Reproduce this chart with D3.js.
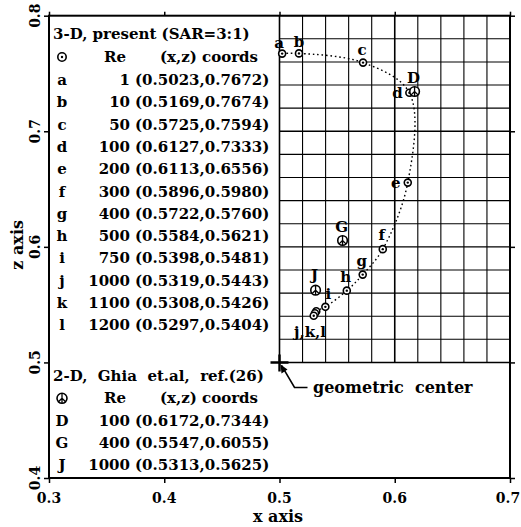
<!DOCTYPE html>
<html><head><meta charset="utf-8">
<script src="https://cdn.jsdelivr.net/npm/d3@7"></script>
<style>
html,body{margin:0;padding:0;background:#fff;}
text{font-family:"DejaVu Serif",serif;font-weight:bold;fill:#000;}
</style></head>
<body>
<svg id="chart" width="521" height="527"></svg>
<script>
// ---- data ----
const presentLabels = ['a','b','c','d','e','f','g','h','i','j','k','l'];
const presentRe = [1,10,50,100,200,300,400,500,750,1000,1100,1200];
const presentX = [0.5023,0.5169,0.5725,0.6127,0.6113,0.5896,0.5722,0.5584,0.5398,0.5319,0.5308,0.5297];
const presentZ = [0.7672,0.7674,0.7594,0.7333,0.6556,0.5980,0.5760,0.5621,0.5481,0.5443,0.5426,0.5404];
const ghiaLabels = ['D','G','J'];
const ghiaRe = [100,400,1000];
const ghiaX = [0.6172,0.5547,0.5313];
const ghiaZ = [0.7344,0.6055,0.5625];
const xTicks = [0.3,0.4,0.5,0.6,0.7];
const yTicks = [0.4,0.5,0.6,0.7,0.8];
const gridX = d3.range(0.5,0.7001,0.02);
const gridY = d3.range(0.5,0.8001,0.02);
const center = [0.5,0.5];

// ---- layout ----
const svg = d3.select('#chart');
const L=49, R=510, T=15.7, B=478;
const x = d3.scaleLinear().domain([0.3,0.7]).range([L,R]);
const y = d3.scaleLinear().domain([0.4,0.8]).range([B,T]);
const fmt = d => d.toFixed(1);
const coord = (a,b) => '(' + a.toFixed(4) + ',' + b.toFixed(4) + ')';

// grid
const g = svg.append('g');
g.selectAll('line.gx').data(gridX).join('line')
  .attr('x1',d=>x(d)).attr('x2',d=>x(d)).attr('y1',y(0.5)).attr('y2',y(0.8))
  .attr('stroke','#000').attr('stroke-width',d=>Math.abs(d-0.6)<1e-6||Math.abs(d-0.5)<1e-6?1.6:1.1);
g.selectAll('line.gy').data(gridY).join('line')
  .attr('y1',d=>y(d)).attr('y2',d=>y(d)).attr('x1',x(0.5)).attr('x2',x(0.7))
  .attr('stroke','#000').attr('stroke-width',d=>Math.abs(d-0.7)<1e-6||Math.abs(d-0.5)<1e-6?1.6:1.1);

// frame
svg.append('rect').attr('x',L).attr('y',T).attr('width',R-L).attr('height',B-T)
  .attr('fill','none').attr('stroke','#000').attr('stroke-width',2);

// axes (outward ticks, labels drawn separately)
const xb = d3.axisBottom(x).tickValues(xTicks).tickSize(5).tickFormat('');
const xt = d3.axisTop(x).tickValues(xTicks).tickSize(4).tickFormat('');
const yl = d3.axisLeft(y).tickValues(yTicks).tickSize(5).tickFormat('');
const yr = d3.axisRight(y).tickValues(yTicks).tickSize(5).tickFormat('');
[[xb,`translate(0,${B})`],[xt,`translate(0,${T})`],[yl,`translate(${L},0)`],[yr,`translate(${R},0)`]].forEach(([ax,tr])=>{
  const a = svg.append('g').attr('transform',tr).call(ax);
  a.select('.domain').remove();
  a.selectAll('line').attr('stroke','#000').attr('stroke-width',1.5);
});
// tick labels
svg.append('g').selectAll('text').data(xTicks).join('text')
  .attr('x',d=>Math.min(x(d),508)).attr('y',498).attr('text-anchor','middle').attr('dominant-baseline','central')
  .style('font-size','14px').text(fmt);
svg.append('g').selectAll('text').data(yTicks).join('text')
  .attr('transform',d=>`translate(35,${y(d)}) rotate(-90)`).attr('text-anchor','middle').attr('dominant-baseline','central')
  .style('font-size','14px').text(fmt);
svg.append('text').attr('x',278).attr('y',516).attr('text-anchor','middle').attr('dominant-baseline','central')
  .style('font-size','16px').text('x axis');
svg.append('text').attr('transform',`translate(17,${y(0.6)-2}) rotate(-90)`).attr('text-anchor','middle').attr('dominant-baseline','central')
  .style('font-size','16px').text('z axis');

// curve through present points
const pts = presentX.map((v,i)=>[x(v),y(presentZ[i])]);
svg.append('path').attr('d',d3.line().curve(d3.curveCatmullRom.alpha(0.5))(pts))
  .attr('fill','none').attr('stroke','#000').attr('stroke-width',1.4).attr('stroke-dasharray','1.6,2.8');

// markers
function presentMark(sel,cx,cy,r){
  sel.append('circle').attr('cx',cx).attr('cy',cy).attr('r',r).attr('fill','#fff').attr('stroke','#000').attr('stroke-width',1.6);
  sel.append('circle').attr('cx',cx).attr('cy',cy).attr('r',1.2).attr('fill','#000');
}
function ghiaMark(sel,cx,cy,r){
  sel.append('circle').attr('cx',cx).attr('cy',cy).attr('r',r).attr('fill','#fff').attr('stroke','#000').attr('stroke-width',1.6);
  const p = `M${cx},${cy-r}L${cx},${cy+r}M${cx},${cy}L${cx-r*0.72},${cy+r*0.7}M${cx},${cy}L${cx+r*0.72},${cy+r*0.7}`;
  sel.append('path').attr('d',p).attr('stroke','#000').attr('stroke-width',1.3).attr('fill','none');
}
const mk = svg.append('g');
presentX.forEach((v,i)=>presentMark(mk,x(v),y(presentZ[i]),3.5));
ghiaX.forEach((v,i)=>ghiaMark(mk,x(v),y(ghiaZ[i]),4.8));

// point labels (offsets in px)
const labelOffset = {a:[-3,-11],b:[0,-11],c:[-1,-13],d:[-12,0],e:[-12,0],f:[-1,-14],g:[-1,-14],h:[-1,-14],i:[3,-13]};
const ghiaOffset = {D:[-1,-14],G:[-1,-13],J:[-1,-15]};
const lb = svg.append('g').style('font-size','15px');
presentLabels.forEach((t,i)=>{
  const o = labelOffset[t]; if(!o) return;
  lb.append('text').attr('x',x(presentX[i])+o[0]).attr('y',y(presentZ[i])+o[1])
    .attr('text-anchor','middle').attr('dominant-baseline','central').text(t);
});
ghiaLabels.forEach((t,i)=>{
  const o = ghiaOffset[t];
  lb.append('text').attr('x',x(ghiaX[i])+o[0]).attr('y',y(ghiaZ[i])+o[1])
    .attr('text-anchor','middle').attr('dominant-baseline','central').text(t);
});
lb.append('text').attr('x',x(presentX[10])-5).attr('y',y(presentZ[10])+19)
  .attr('text-anchor','middle').attr('dominant-baseline','central').text(presentLabels.slice(9).join(','));

// geometric center
const cx0=x(center[0]), cy0=y(center[1]);
svg.append('path').attr('d',`M${cx0-9},${cy0}L${cx0+9},${cy0}M${cx0},${cy0-8}L${cx0},${cy0+9}`)
  .attr('stroke','#000').attr('stroke-width',2.4);
svg.append('path').attr('d',`M${cx0+2},${cy0+3}L${cx0+15},${cy0+25}L${cx0+28},${cy0+25}`)
  .attr('stroke','#000').attr('stroke-width',1.6).attr('fill','none');
svg.append('path').attr('d',`M${cx0+1},${cy0+2}L${cx0+2},${cy0+11}L${cx0+8},${cy0+7}Z`).attr('fill','#000');
svg.append('text').attr('x',313).attr('y',cy0+25).attr('dominant-baseline','central')
  .style('font-size','16px').style('white-space','pre').text('geometric  center');

// legends
const lg = svg.append('g').style('font-size','15px');
const rowH = 22.3;
const colSym=62, colRe=130, colXY=135;
lg.append('text').attr('x',53).attr('y',34).attr('dominant-baseline','central').text('3-D, present (SAR=3:1)');
presentMark(lg,colSym,57,4.2);
lg.append('text').attr('x',115).attr('y',57).attr('text-anchor','middle').attr('dominant-baseline','central').text('Re');
lg.append('text').attr('x',209).attr('y',57).attr('text-anchor','middle').attr('dominant-baseline','central').text('(x,z) coords');
presentLabels.forEach((t,i)=>{
  const yy = 80 + i*rowH;
  lg.append('text').attr('x',colSym).attr('y',yy).attr('text-anchor','middle').attr('dominant-baseline','central').text(t);
  lg.append('text').attr('x',colRe).attr('y',yy).attr('text-anchor','end').attr('dominant-baseline','central').text(presentRe[i]);
  lg.append('text').attr('x',colXY).attr('y',yy).attr('dominant-baseline','central').text(coord(presentX[i],presentZ[i]));
});
const y2 = 376;
lg.append('text').attr('x',53).attr('y',y2).attr('dominant-baseline','central').style('white-space','pre').text('2-D,  Ghia  et.al,  ref.(26)');
ghiaMark(lg,colSym,y2+rowH,5);
lg.append('text').attr('x',115).attr('y',y2+rowH).attr('text-anchor','middle').attr('dominant-baseline','central').text('Re');
lg.append('text').attr('x',209).attr('y',y2+rowH).attr('text-anchor','middle').attr('dominant-baseline','central').text('(x,z) coords');
ghiaLabels.forEach((t,i)=>{
  const yy = y2 + (i+2)*rowH;
  lg.append('text').attr('x',colSym).attr('y',yy).attr('text-anchor','middle').attr('dominant-baseline','central').text(t);
  lg.append('text').attr('x',colRe).attr('y',yy).attr('text-anchor','end').attr('dominant-baseline','central').text(ghiaRe[i]);
  lg.append('text').attr('x',colXY).attr('y',yy).attr('dominant-baseline','central').text(coord(ghiaX[i],ghiaZ[i]));
});
</script>
</body></html>
